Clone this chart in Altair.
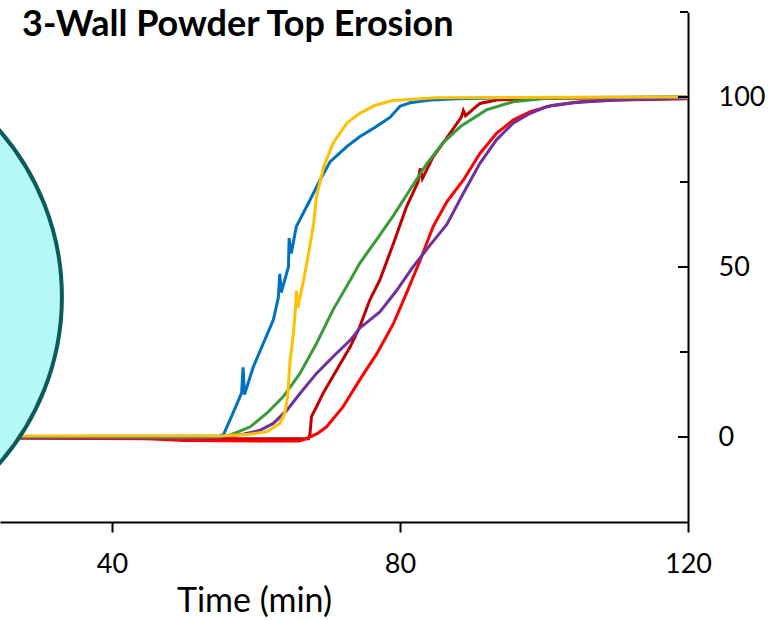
import altair as alt
import pandas as pd

# ---- data (time in min, erosion in %) ----
blue_t = [0, 20, 40, 50, 55, 55.5, 56.8, 58.0, 58.2, 58.4, 59.6, 61.0, 62.4, 63.1, 63.3, 63.5, 64.5, 64.6, 64.9,
          65.6, 67.5, 68.9, 70.3, 72.6, 74.4, 76.5, 77.7, 78.6, 80.0, 81.4, 84.2, 88, 95, 120]
blue_v = [0, 0, 0.2, 0.2, 0.3, 0.8, 7, 13, 20.5, 12.5, 20.5, 27.5, 34.4, 41, 48, 42.5, 50, 58.5, 54,
          61.9, 69.7, 75.6, 81, 85.4, 88.3, 91, 92.7, 94, 97.3, 98.3, 99.1, 99.5, 99.8, 100]

gold_t = [0, 55, 59, 61.5, 63.3, 64.0, 64.4, 64.7, 65.2, 65.5, 65.6, 65.8, 66.6, 67.3, 68.0, 68.4, 69.4, 70.7,
          72.6, 74.4, 76.5, 79, 85, 120]
gold_v = [0.3, 0.3, 0.8, 1.5, 4, 7, 12, 21.7, 30.5, 38.3, 43, 38, 46, 54, 62.8, 70.7, 79.5, 86.4,
          92.3, 95.2, 97.5, 99, 99.8, 100]

green_t = [0, 50, 55, 56.4, 57.5, 59.2, 61.5, 63.8, 66.1, 68.4, 70.7, 73.1, 74.4, 76.8, 79.1, 81.4, 83.7, 86.0,
           88.5, 92.0, 95.7, 100.4, 120]
green_v = [0, -0.2, 0, 0.6, 1.5, 3, 7, 11.9, 18.7, 27.5, 37.4, 46.2, 51.1, 58.2, 65.2, 72.8, 80.3, 86.6,
           91.5, 96.2, 98.6, 99.6, 100]

purple_t = [0, 55, 58.2, 60.6, 62.4, 64.3, 66.1, 68.4, 70.7, 73.1, 74.4, 77.2, 79.5, 81.8, 84.2, 86.5, 88.8,
            91.1, 93.4, 95.7, 98.1, 100.4, 104.1, 109.6, 120]
purple_v = [0, 0, 0.8, 2, 4, 7.9, 12.8, 18.7, 23.6, 28.5, 32, 36.8, 43, 50, 56.5, 62.5, 71.7,
            80.5, 87.4, 92.3, 95.2, 97.2, 98.3, 99.1, 99.6]

red_t = [0, 45, 50, 60, 66, 67, 68.5, 69.8, 72.1, 74.4, 76.8, 79.1, 80.9, 82.8, 84.6, 86.5, 88.8, 91.1, 93.4,
         95.7, 98.1, 101.3, 105, 110.6, 120]
red_v = [0, -0.5, -1, -1.2, -1.2, -0.5, 1, 3, 8.9, 16.8, 24.6, 33.4, 42.3, 52, 61.9, 69.2, 75.6, 83.4, 89.3,
         93.2, 95.7, 97.6, 98.6, 99.1, 99.5]

darkred_t = [0, 50, 67.3, 67.5, 67.7, 68.4, 69.3, 71.2, 73.1, 74.4, 75.8, 77.2, 79.1, 80.9, 82.5, 82.8, 83.1,
             84.6, 86.5, 88.5, 88.8, 89.1, 91.1, 93.4, 100, 120]
darkred_v = [0, -0.5, -0.5, 1, 6, 8.9, 12.8, 19.7, 26.6, 32.4, 40.3, 46.2, 57, 67.7, 75, 79, 76,
             82.4, 88, 94, 96, 94.5, 98.1, 99.1, 99.6, 99.8]

# annotation circle (centre in data units)
circle_t = [-2.1]
circle_v = [41.2]

major_ticks = [0, 50, 100]
minor_ticks = [25, 75, 125]
x_ticks = [40, 80, 120]
chart_title = ["3-Wall Powder Top Erosion"]

series = [
    ("dark red", darkred_t, darkred_v, "#C00000"),
    ("red", red_t, red_v, "#FF0000"),
    ("green", green_t, green_v, "#3A9A3A"),
    ("purple", purple_t, purple_v, "#7030A0"),
    ("blue", blue_t, blue_v, "#0070C0"),
    ("gold", gold_t, gold_v, "#FFC000"),
]

W, H = 688, 510
FONT = "Lato"

xscale = alt.Scale(domain=[24.44, 120], nice=False, zero=False)
yscale = alt.Scale(domain=[-25, 125], nice=False, zero=False)

xaxis = alt.Axis(values=x_ticks, grid=False, tickSize=10, tickWidth=2, tickColor="black",
                 domainColor="black", domainWidth=2, labelFont=FONT, labelFontSize=27,
                 labelColor="black", labelBaseline="alphabetic", labelPadding=40,
                 labelFlush=False, labelOverlap=False,
                 title="Time (min)", titleFont=FONT, titleFontSize=34, titleFontWeight="normal",
                 titleColor="black", titleX=254, titleY=89, titleAlign="center",
                 titleBaseline="alphabetic", titleAnchor="start")
yaxis = alt.Axis(orient="right", values=major_ticks, grid=False, ticks=False,
                 domainColor="black", domainWidth=2, labelFont=FONT, labelFontSize=27,
                 labelColor="black", labelPadding=30, labelAlign="left",
                 labelBaseline="middle", title=None)

X = alt.X("t:Q", scale=xscale, axis=xaxis)
Y = alt.Y("v:Q", scale=yscale, axis=yaxis)

layers = []
for name, ts, vs, col in series:
    df = pd.DataFrame({"t": ts, "v": vs})
    layers.append(
        alt.Chart(df).mark_line(color=col, strokeWidth=3, clip=True)
        .encode(x=X, y=Y)
    )

circle = alt.Chart(pd.DataFrame({"t": circle_t, "v": circle_v})).mark_circle(
    fill="#B4F8F7", stroke="#0A5C5C", strokeWidth=4, opacity=1, fillOpacity=1, size=256036, clip=False
).encode(x=X, y=Y)

major = alt.Chart(pd.DataFrame({"v": major_ticks})).mark_rule(color="black", strokeWidth=2).encode(
    y=Y, x=alt.value(W - 10), x2=alt.value(W))
minor = alt.Chart(pd.DataFrame({"v": minor_ticks})).mark_rule(color="black", strokeWidth=2).encode(
    y=Y, x=alt.value(W - 8), x2=alt.value(W))

title = alt.Chart(pd.DataFrame({"label": chart_title})).mark_text(
    font=FONT, fontSize=36, fontWeight="bold", color="black", align="left", baseline="alphabetic"
).encode(text="label:N", x=alt.value(22), y=alt.value(24))

chart = alt.layer(*layers, circle, major, minor, title).properties(
    width=W, height=H,
    autosize=alt.AutoSizeParams(type="none"),
    padding={"left": 0, "top": 12, "right": 93, "bottom": 98},
    background="white",
).configure_view(stroke=None)

chart.save("out.html", embed_options={"renderer": "svg", "actions": False})
